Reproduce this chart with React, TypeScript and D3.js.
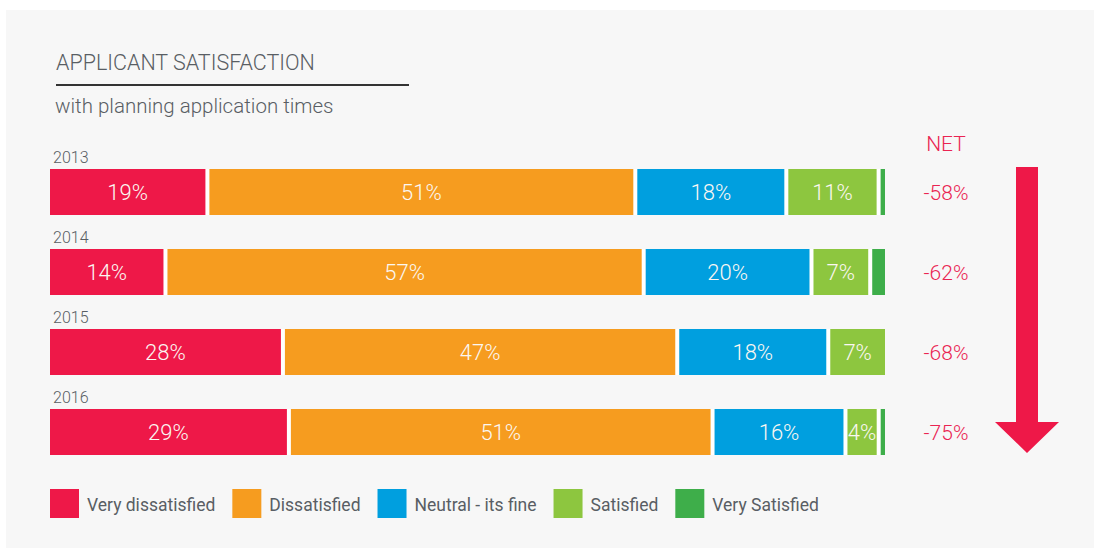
import React, { useEffect, useRef } from "react";
import * as d3 from "d3";

const years = ["2013", "2014", "2015", "2016"];
const categories = ["Very dissatisfied", "Dissatisfied", "Neutral - its fine", "Satisfied", "Very Satisfied"];
const veryDissatisfied = [19, 14, 28, 29];
const dissatisfied = [51, 57, 47, 51];
const neutral = [18, 20, 18, 16];
const satisfied = [11, 7, 7, 4];
const verySatisfied = [1, 2, 0, 1];
const netValues = ["-58%", "-62%", "-68%", "-75%"];
const colors = ["#ee1848", "#f69c1f", "#009fdf", "#8dc63f", "#3eae4a"];
const titleText = "APPLICANT SATISFACTION";
const subtitleText = "with planning application times";
const netLabel = "NET";

const FONT = "Roboto, 'Noto Sans', sans-serif";
const GRAY = "#595e64";
const NETRED = "#ea2452";

export default function App() {
  const ref = useRef<SVGSVGElement | null>(null);

  useEffect(() => {
    const svg = d3.select(ref.current);
    svg.selectAll("*").remove();
    const W = 1096, H = 550;

    svg.append("rect").attr("width", W).attr("height", H).attr("fill", "#ffffff");
    svg.append("rect").attr("x", 6).attr("y", 10).attr("width", 1088).attr("height", 538).attr("fill", "#f7f7f7");

    // Title
    svg.append("text").attr("x", 56).attr("y", 70).attr("font-family", FONT).attr("font-size", 21.5)
      .attr("font-weight", 300).attr("fill", GRAY).text(titleText);
    svg.append("line").attr("x1", 56).attr("x2", 409).attr("y1", 85).attr("y2", 85)
      .attr("stroke", "#333").attr("stroke-width", 2);
    svg.append("text").attr("x", 55).attr("y", 113).attr("font-family", FONT).attr("font-size", 20.5)
      .attr("font-weight", 300).attr("fill", GRAY).text(subtitleText);

    const rows = years.map((y, i) => {
      const vals = [veryDissatisfied[i], dissatisfied[i], neutral[i], satisfied[i], verySatisfied[i]];
      return { year: y, vals, net: netValues[i] };
    });

    const yScale = d3.scaleBand<string>().domain(years).range([169, 169 + 3 * 80 + 46]).paddingInner(0.425).paddingOuter(0);
    const bh = yScale.bandwidth();
    const gap = 4;

    rows.forEach((row) => {
      const total = d3.sum(row.vals);
      const x = d3.scaleLinear().domain([0, total]).range([50, 889]);
      const y0 = yScale(row.year)!;
      const g = svg.append("g");
      g.append("text").attr("x", 53).attr("y", y0 - 6).attr("font-family", FONT).attr("font-size", 16)
        .attr("font-weight", 300).attr("fill", GRAY).text(row.year);
      g.append("rect").attr("x", 50).attr("y", y0).attr("width", x(total) - gap - 50).attr("height", bh).attr("fill", "#ffffff");
      const stacked = d3.cumsum(row.vals);
      const segs = row.vals.map((v, k) => ({ v, k, start: stacked[k] - v, end: stacked[k] }));
      segs.filter((s) => s.v > 0).forEach((s) => {
        const xa = x(s.start), xb = x(s.end) - gap;
        g.append("rect").attr("x", xa).attr("y", y0).attr("width", Math.max(1, xb - xa)).attr("height", bh)
          .attr("fill", colors[s.k]);
        if (s.k < 4 && s.v >= 3) {
          g.append("text").attr("x", (xa + xb) / 2).attr("y", y0 + bh / 2 + 8).attr("text-anchor", "middle")
            .attr("font-family", FONT).attr("font-size", 22).attr("font-weight", 300).attr("fill", "#fbf7f2").text(`${s.v}%`);
        }
      });
      g.append("text").attr("x", 946).attr("y", y0 + bh / 2 + 8).attr("text-anchor", "middle")
        .attr("font-family", FONT).attr("font-size", 21).attr("font-weight", 300).attr("fill", NETRED).text(row.net);
    });

    svg.append("text").attr("x", 946).attr("y", 151).attr("text-anchor", "middle")
      .attr("font-family", FONT).attr("font-size", 21).attr("font-weight", 300).attr("fill", NETRED).text(netLabel);

    // Arrow
    const ax = 1027, top = 167, headTop = 422, tip = 453;
    const path = d3.path();
    path.moveTo(ax - 11, top);
    path.lineTo(ax + 11, top);
    path.lineTo(ax + 11, headTop);
    path.lineTo(ax + 32, headTop);
    path.lineTo(ax, tip);
    path.lineTo(ax - 32, headTop);
    path.lineTo(ax - 11, headTop);
    path.closePath();
    svg.append("path").attr("d", path.toString()).attr("fill", "#ee1848");

    // Legend
    let lx = 50;
    categories.forEach((c, k) => {
      svg.append("rect").attr("x", lx).attr("y", 489).attr("width", 29).attr("height", 29).attr("fill", colors[k]);
      const t = svg.append("text").attr("x", lx + 37).attr("y", 511).attr("font-family", FONT).attr("font-size", 17.5)
        .attr("font-weight", 400).attr("fill", GRAY).text(c);
      const w = (t.node() as SVGTextElement).getComputedTextLength();
      lx = lx + 37 + w + 17;
    });
  }, []);

  return (
    <div style={{ position: "absolute", left: 0, top: 0 }}>
      <svg ref={ref} width={1096} height={550} style={{ display: "block" }} />
    </div>
  );
}
